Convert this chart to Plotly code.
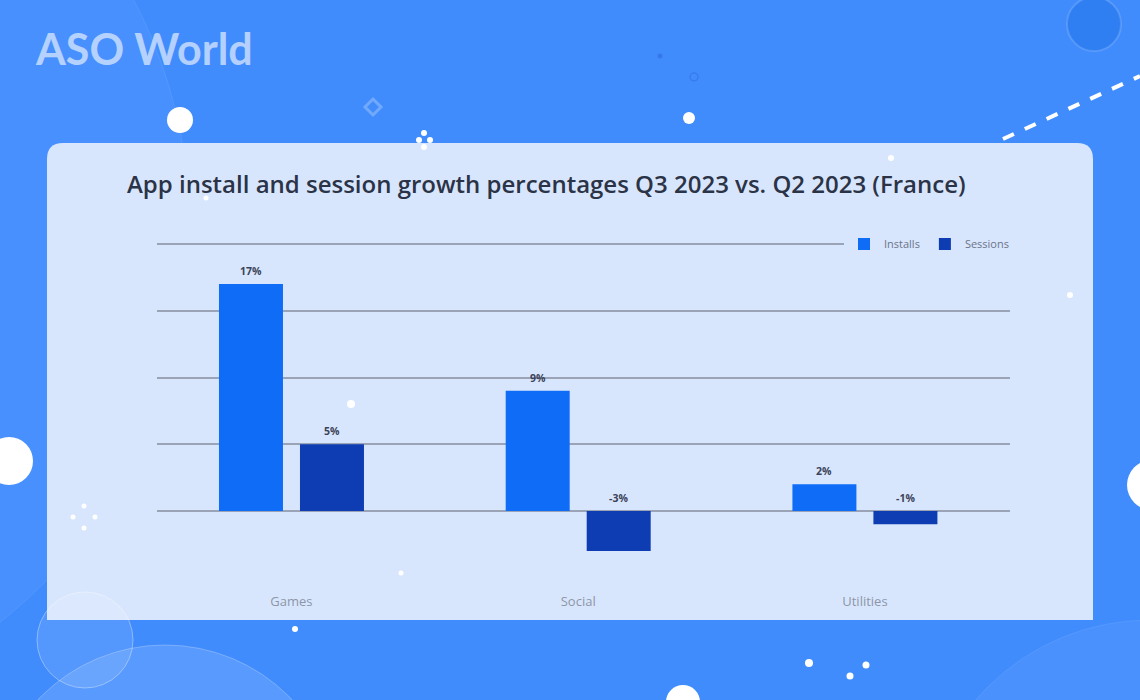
import plotly.graph_objects as go

# ---- data ----
categories = ["Games", "Social", "Utilities"]
installs = [17, 9, 2]
sessions = [5, -3, -1]
installs_labels = ["17%", "9%", "2%"]
sessions_labels = ["5%", "-3%", "-1%"]

W, H = 1140, 700
def px(x):
    return x / W
def py(y):
    return 1 - y / H

INST = "#0f6cf7"
SESS = "#0e3cb2"
PANEL = "#d8e6fd"
BG = "#418cfd"

fig = go.Figure()
fig.add_trace(go.Bar(x=categories, y=installs, name="Installs", marker_color=INST,
                     marker_line_width=0, hoverinfo="skip"))
fig.add_trace(go.Bar(x=categories, y=sessions, name="Sessions", marker_color=SESS,
                     marker_line_width=0, hoverinfo="skip"))

shapes = []
def circle(cx, cy, r, fill, line=None, lw=0, layer="below"):
    shapes.append(dict(type="circle", xref="paper", yref="paper",
                       x0=px(cx - r), x1=px(cx + r), y0=py(cy + r), y1=py(cy - r),
                       fillcolor=fill, line=dict(color=line or "rgba(0,0,0,0)", width=lw),
                       layer=layer))

# subtle background arcs
circle(-310, 230, 500, "rgba(255,255,255,0.04)", "rgba(255,255,255,0.08)", 1)
circle(165, 820, 175, "rgba(255,255,255,0.12)", "rgba(255,255,255,0.25)", 1)
circle(1150, 850, 230, "rgba(255,255,255,0.05)", "rgba(255,255,255,0.08)", 1)

# panel (rounded top corners)
x0, x1, y0, y1, r = 47, 1093, 143, 620, 16
path = (f"M {px(x0)},{py(y1)} L {px(x0)},{py(y0 + r)} "
        f"Q {px(x0)},{py(y0)} {px(x0 + r)},{py(y0)} "
        f"L {px(x1 - r)},{py(y0)} Q {px(x1)},{py(y0)} {px(x1)},{py(y0 + r)} "
        f"L {px(x1)},{py(y1)} Z")
shapes.append(dict(type="path", xref="paper", yref="paper", path=path,
                   fillcolor=PANEL, line=dict(width=0), layer="below"))

# bubble bottom-left
circle(85, 640, 48, "rgba(255,255,255,0.10)", "rgba(255,255,255,0.35)", 1)

# top-right dark circle
circle(1094, 24, 27, "#2f7ff3", "rgba(255,255,255,0.15)", 2)

# dashed line
shapes.append(dict(type="line", xref="paper", yref="paper",
                   x0=px(1003), y0=py(139), x1=px(1140), y1=py(76),
                   line=dict(color="white", width=4, dash="12px,12px"), layer="below"))

# diamond ring
shapes.append(dict(type="path", xref="paper", yref="paper",
                   path=f"M {px(373)},{py(99)} L {px(381)},{py(107)} L {px(373)},{py(115)} L {px(365)},{py(107)} Z",
                   fillcolor="rgba(0,0,0,0)", line=dict(color="rgba(255,255,255,0.25)", width=3),
                   layer="below"))

# white dots
for (cx, cy, rr) in [(180, 120, 13), (689, 118, 6), (9, 461, 24), (1152, 485, 25),
                     (683, 702, 17), (809, 663, 4), (850, 676, 3.5), (866, 665, 3.5),
                     (295, 629, 3), (401, 573, 2.5), (351, 404, 4), (1070, 295, 3),
                     (891, 158, 3), (206, 198, 2.5),
                     (424, 133, 3), (419, 140, 3), (430, 140, 3), (424, 147, 3),
                     (84, 506, 2.5), (73, 517, 2.5), (95, 517, 2.5), (84, 528, 2.5)]:
    circle(cx, cy, rr, "white")
circle(660, 56, 2.5, "rgba(40,100,220,0.5)")
circle(694, 77, 4, "rgba(0,0,0,0)", "rgba(40,100,220,0.4)", 1.5)

annotations = []
# logo
annotations.append(dict(xref="paper", yref="paper", x=px(33), y=py(48), xanchor="left",
                        yanchor="middle", showarrow=False, text="<b>ASO World</b>",
                        font=dict(family="Lato", size=43, color="rgba(225,235,255,0.72)")))
# title
annotations.append(dict(xref="paper", yref="paper", x=px(546), y=py(183), xanchor="center",
                        yanchor="middle", showarrow=False,
                        text="App install and session growth percentages Q3 2023 vs. Q2 2023 (France)",
                        font=dict(family="Open Sans", size=24, color="#2b3346", weight=600)))

# value labels
for cat, v, t in zip(categories, installs, installs_labels):
    annotations.append(dict(x=cat, y=max(v, 0), xref="x", yref="y", xshift=-40.5, yshift=4,
                            yanchor="bottom", showarrow=False, text=f"<b>{t}</b>",
                            font=dict(family="Open Sans", size=10.5, color="#3b4358")))
for cat, v, t in zip(categories, sessions, sessions_labels):
    annotations.append(dict(x=cat, y=max(v, 0), xref="x", yref="y", xshift=40.5, yshift=4,
                            yanchor="bottom", showarrow=False, text=f"<b>{t}</b>",
                            font=dict(family="Open Sans", size=10.5, color="#3b4358")))

# y: 20 -> 244px, 0 -> 511px ; range [-5, 20.6]
ppu = (511 - 244) / 20.0
y_lo, y_hi = -5, 20.6
dom_top = 511 - y_hi * ppu
dom_bot = 511 - y_lo * ppu

fig.update_layout(
    width=W, height=H,
    margin=dict(l=0, r=0, t=0, b=0),
    paper_bgcolor=BG,
    plot_bgcolor="rgba(0,0,0,0)",
    barmode="group", bargap=0.435, bargroupgap=0.21,
    showlegend=True,
    legend=dict(orientation="h", x=px(1014), xanchor="right", y=py(244), yanchor="middle",
                bgcolor=PANEL, font=dict(family="Open Sans", size=11, color="#6b7489"),
                itemwidth=30, tracegroupgap=0, traceorder="normal"),
    xaxis=dict(domain=[px(157), px(1010)], range=[-0.469, 2.506], showgrid=False,
               zeroline=False, showline=False, ticks="",
               tickfont=dict(family="Open Sans", size=13, color="#8d96a8"),
               ticklabelstandoff=14, fixedrange=True),
    yaxis=dict(domain=[py(dom_bot), py(dom_top)], range=[y_lo, y_hi], tickvals=[0, 5, 10, 15, 20],
               showticklabels=False, showgrid=True, gridcolor="#9ba4b6", gridwidth=1.5,
               zeroline=True, zerolinecolor="#9ba4b6", zerolinewidth=1.5,
               showline=False, fixedrange=True),
    shapes=shapes,
    annotations=annotations,
)

fig.write_html("out.html", config={"displayModeBar": False},
               post_script="document.body.style.margin='0';document.body.style.overflow='hidden';")
